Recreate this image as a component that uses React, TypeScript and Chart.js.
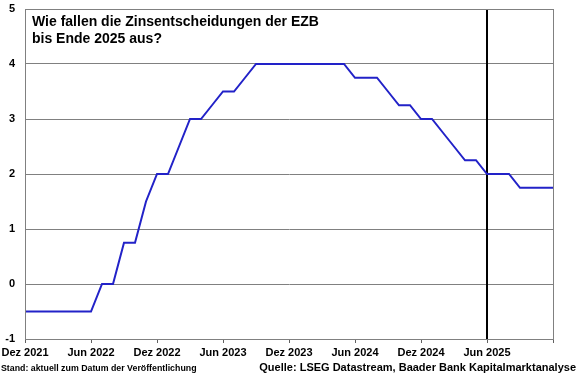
import React, { useEffect, useRef } from "react";
import { Chart, registerables } from "chart.js";

Chart.register(...registerables);

const titleLines = ["Wie fallen die Zinsentscheidungen der EZB", "bis Ende 2025 aus?"];
const noteLeft = "Stand: aktuell zum Datum der Veröffentlichung";
const noteRight = "Quelle: LSEG Datastream, Baader Bank Kapitalmarktanalyse";

// month index 0 = Dez 2021 ... 48 = Dez 2025
const tickLabels = ["Dez 2021", "Jun 2022", "Dez 2022", "Jun 2023", "Dez 2023", "Jun 2024", "Dez 2024", "Jun 2025", ""];
const rates = [
  -0.5, -0.5, -0.5, -0.5, -0.5, -0.5, -0.5,
  0, 0,
  0.75, 0.75,
  1.5,
  2.0, 2.0,
  2.5,
  3.0, 3.0,
  3.25,
  3.5, 3.5,
  3.75,
  4.0, 4.0, 4.0, 4.0, 4.0, 4.0, 4.0, 4.0, 4.0,
  3.75, 3.75, 3.75,
  3.5,
  3.25, 3.25,
  3.0, 3.0,
  2.75,
  2.5,
  2.25, 2.25,
  2.0, 2.0, 2.0,
  1.75, 1.75, 1.75, 1.75,
];
const markerMonth = 42; // Jun 2025
const yMin = -1;
const yMax = 5;

const FONT = "'Liberation Sans', Arial, sans-serif";

export default function App() {
  const ref = useRef<HTMLCanvasElement | null>(null);
  useEffect(() => {
    document.body.style.margin = "0";
    const canvas = ref.current!;
    const overlay = {
      id: "overlay",
      afterDraw(chart: any) {
        const { ctx, chartArea } = chart;
        ctx.save();
        ctx.strokeStyle = "#808080";
        ctx.lineWidth = 1;
        ctx.strokeRect(chartArea.left + 0.5, chartArea.top + 0.5, chartArea.right - chartArea.left, chartArea.bottom - chartArea.top);
        ctx.fillStyle = "#000";
        ctx.textBaseline = "alphabetic";
        ctx.font = `bold 14px ${FONT}`;
        ctx.textAlign = "left";
        ctx.fillText(titleLines[0], 32, 26);
        ctx.fillText(titleLines[1], 32, 43);
        ctx.font = `bold 8.8px ${FONT}`;
        ctx.fillText(noteLeft, 1, 371);
        ctx.font = `bold 11px ${FONT}`;
        ctx.textAlign = "right";
        ctx.fillText(noteRight, 576, 371);
        ctx.restore();
      },
    };
    const chart = new Chart(canvas, {
      type: "line",
      data: {
        datasets: [
          {
            data: rates.map((v, i) => ({ x: i, y: v })),
            borderColor: "#2222c8",
            borderWidth: 2,
            pointRadius: 0,
            tension: 0,
          },
          {
            data: [
              { x: markerMonth, y: yMin },
              { x: markerMonth, y: yMax },
            ],
            borderColor: "#000",
            borderWidth: 2,
            pointRadius: 0,
          },
        ],
      },
      options: {
        responsive: false,
        animation: false,
        layout: { padding: { top: 9, right: 27, left: 0, bottom: 0 } },
        plugins: { legend: { display: false }, tooltip: { enabled: false }, title: { display: false } },
        scales: {
          x: {
            type: "linear",
            min: 0,
            max: 48,
            afterFit(scale: any) {
              scale.height = 36;
              scale.paddingLeft = 0;
              scale.paddingRight = 0;
            },
            afterBuildTicks(scale: any) {
              scale.ticks = tickLabels.map((_, i) => ({ value: i * 6 }));
            },
            ticks: {
              autoSkip: false,
              maxRotation: 0,
              padding: 3,
              color: "#000",
              font: { family: FONT, size: 11, weight: "bold" },
              callback: (v: any) => tickLabels[Math.round(Number(v) / 6)] ?? "",
            },
            grid: { drawOnChartArea: false, drawTicks: true, tickLength: 4, color: "#606060" },
            border: { color: "#606060" },
          },
          y: {
            min: yMin,
            max: yMax,
            afterFit(scale: any) {
              scale.width = 25;
              scale.paddingTop = 0;
              scale.paddingBottom = 0;
            },
            ticks: {
              stepSize: 1,
              padding: 10,
              color: "#000",
              font: { family: FONT, size: 11, weight: "bold" },
            },
            grid: { drawTicks: false, color: "#808080" },
            border: { color: "#808080" },
          },
        },
      },
      plugins: [overlay],
    } as any);
    return () => chart.destroy();
  }, []);
  return <canvas ref={ref} width={580} height={375} style={{ display: "block" }} />;
}
